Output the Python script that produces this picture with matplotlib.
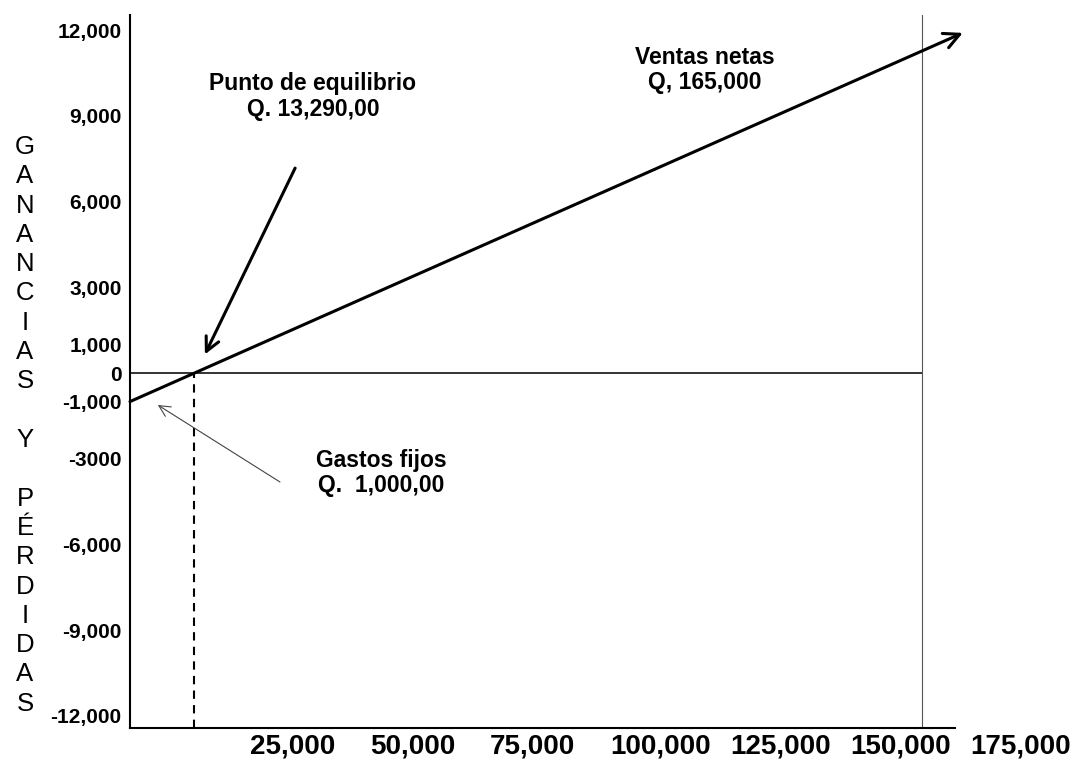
"""
Punto de equilibrio: ganancias y pérdidas vs ventas
"""

import matplotlib
matplotlib.use('Agg')
import matplotlib.pyplot as plt

# Data
ytick_values = [12000, 9000, 6000, 3000, 1000, 0, -1000, -3000, -6000, -9000, -12000]
ytick_labels = ['12,000', '9,000', '6,000', '3,000', '1,000', '0',
                '-1,000', '-3000', '-6,000', '-9,000', '-12,000']
xtick_values = [25000, 50000, 75000, 100000, 125000, 150000, 175000]
xtick_labels = ['25,000', '50,000', '75,000', '100,000', '125,000', '150,000', '175,000']

sales_x = [0, 173500]          # ventas
sales_y = [-1000, 11900]       # ganancia / pérdida
fixed_costs = -1000
breakeven = 13290
net_sales = 165000

W, H = 1072, 761


def main():

    plt.rcParams['font.family'] = ['Liberation Sans', 'DejaVu Sans']

    fig = plt.figure(figsize=(W / 100, H / 100), dpi=100)
    ax = fig.add_axes([130 / W, (H - 728) / H, 869 / W, 713 / H])

    ax.set_xlim(0, 181040)
    ax.set_ylim(-12421, 12526)

    # Zero line and reference lines
    ax.hlines(0, 0, net_sales, color='#333333', lw=1.4, zorder=1)
    ax.axvline(net_sales, color='#555555', lw=0.8, zorder=1)
    ax.vlines(breakeven, -12421, 0, color='black', lw=1.5,
              linestyles=(0, (4, 3)), zorder=1)

    # Sales line with open arrow head
    ax.annotate('', xy=(sales_x[1], sales_y[1]), xytext=(sales_x[0], sales_y[0]),
                arrowprops=dict(arrowstyle='->', lw=2.2, color='black',
                                mutation_scale=28, shrinkA=0, shrinkB=0),
                annotation_clip=False, zorder=3)

    # Annotations
    ax.annotate('', xy=(15600, 650), xytext=(34400, 7170),
                arrowprops=dict(arrowstyle='->', lw=2.2, color='black',
                                mutation_scale=25, shrinkA=0, shrinkB=0))
    ax.text(38100, 9675, 'Punto de equilibrio\nQ. 13,290,00', ha='center', va='center',
            fontsize=16.5, fontweight='bold', linespacing=1.15)

    ax.annotate('', xy=(5800, -1120), xytext=(31250, -3814),
                arrowprops=dict(arrowstyle='->', lw=0.8, color='#444444',
                                mutation_scale=20, shrinkA=0, shrinkB=0))
    ax.text(52300, -3500, 'Gastos fijos\nQ.  1,000,00', ha='center', va='center',
            fontsize=16.5, fontweight='bold', linespacing=1.15)

    ax.text(119800, 10600, 'Ventas netas\nQ, 165,000', ha='center', va='center',
            fontsize=16.5, fontweight='bold', linespacing=1.15)

    # Axes styling
    ax.spines['top'].set_visible(False)
    ax.spines['right'].set_visible(False)
    ax.spines['left'].set_linewidth(1.5)
    ax.spines['bottom'].set_linewidth(1.5)
    ax.spines['bottom'].set_bounds(0, 171900)

    ax.set_yticks(ytick_values)
    ax.set_yticklabels(ytick_labels, fontsize=15, fontweight='bold')
    ax.set_xticks(xtick_values)
    ax.set_xticklabels(xtick_labels, fontsize=20, fontweight='bold', ha='left')
    ax.tick_params(axis='y', length=0, pad=6)
    ax.tick_params(axis='x', length=0, pad=4)

    # Vertical stacked axis title
    letters = 'GANANCIAS Y PÉRDIDAS'
    for i, ch in enumerate(letters):
        if ch == ' ':
            continue
        fig.text(25 / W, 1 - (147 + i * 29.3) / H, ch, ha='center', va='center',
                 fontsize=18.5)

    fig.savefig('out.png', dpi=100)
    plt.close(fig)


if __name__ == '__main__':
    main()
